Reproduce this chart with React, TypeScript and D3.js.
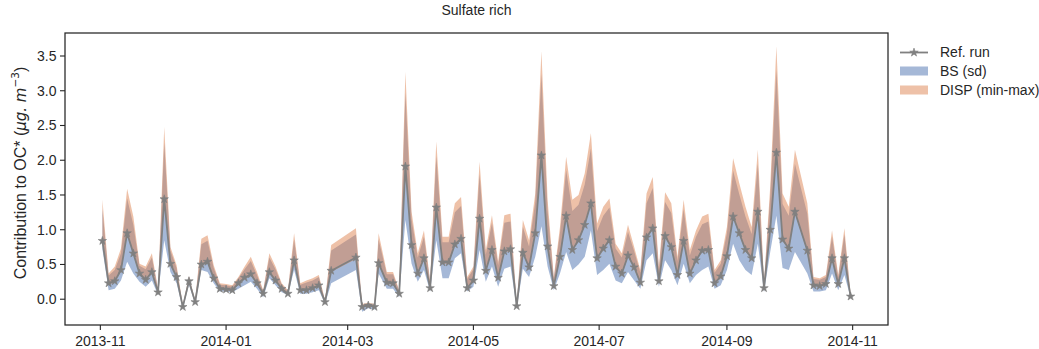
import React from "react";
import * as d3 from "d3";

// sampling dates (every 3 days, a few gaps)
const dates = [
  "2013-11-02", "2013-11-05", "2013-11-08", "2013-11-11", "2013-11-14", "2013-11-17", "2013-11-20", "2013-11-23", "2013-11-26", "2013-11-29",
  "2013-12-02", "2013-12-05", "2013-12-08", "2013-12-11", "2013-12-14", "2013-12-17", "2013-12-20", "2013-12-23", "2013-12-26", "2013-12-29",
  "2014-01-01", "2014-01-04", "2014-01-07", "2014-01-10", "2014-01-13", "2014-01-16", "2014-01-19", "2014-01-22", "2014-01-25", "2014-01-28",
  "2014-01-31", "2014-02-03", "2014-02-06", "2014-02-09", "2014-02-12", "2014-02-15", "2014-02-18", "2014-02-21",
  "2014-03-05", "2014-03-08", "2014-03-11", "2014-03-14", "2014-03-16",
  "2014-03-20", "2014-03-23", "2014-03-26", "2014-03-29", "2014-04-01", "2014-04-04", "2014-04-07", "2014-04-10", "2014-04-13", "2014-04-16",
  "2014-04-19", "2014-04-22", "2014-04-25", "2014-04-28", "2014-05-01", "2014-05-04", "2014-05-07", "2014-05-10", "2014-05-13", "2014-05-16",
  "2014-05-19", "2014-05-22", "2014-05-25", "2014-05-28", "2014-05-31", "2014-06-03", "2014-06-06", "2014-06-09", "2014-06-12", "2014-06-15",
  "2014-06-18", "2014-06-21", "2014-06-24", "2014-06-27", "2014-06-30", "2014-07-03", "2014-07-06", "2014-07-09", "2014-07-12", "2014-07-15",
  "2014-07-18", "2014-07-21", "2014-07-24", "2014-07-27", "2014-07-30", "2014-08-02", "2014-08-05", "2014-08-08", "2014-08-11", "2014-08-14",
  "2014-08-17", "2014-08-20", "2014-08-23", "2014-08-26", "2014-08-29", "2014-09-01", "2014-09-04", "2014-09-07", "2014-09-10", "2014-09-13",
  "2014-09-16", "2014-09-19", "2014-09-22", "2014-09-25", "2014-09-28", "2014-10-01", "2014-10-04",
  "2014-10-10", "2014-10-13", "2014-10-16", "2014-10-19", "2014-10-22", "2014-10-25", "2014-10-28", "2014-10-31",
];

const refRun = [
  0.84, 0.23, 0.26, 0.42, 0.95, 0.66, 0.37, 0.28, 0.39, 0.10,
  1.44, 0.51, 0.32, -0.11, 0.26, -0.04, 0.50, 0.54, 0.30, 0.15,
  0.14, 0.13, 0.23, 0.31, 0.36, 0.23, 0.08, 0.39, 0.27, 0.15,
  0.08, 0.56, 0.13, 0.13, 0.16, 0.20, -0.04, 0.41,
  0.60, -0.11, -0.09, -0.11, 0.52,
  0.24, 0.23, 0.08, 1.91, 0.78, 0.37, 0.59, 0.16, 1.32, 0.53,
  0.53, 0.79, 0.87, 0.16, 0.27, 1.16, 0.41, 0.71, 0.31, 0.69,
  0.72, -0.10, 0.67, 0.46, 0.95, 2.07, 0.76, 0.19, 0.61, 1.20,
  0.71, 0.85, 1.07, 1.38, 0.59, 0.73, 0.85, 0.47, 0.37, 0.63,
  0.46, 0.24, 0.89, 1.02, 0.26, 0.91, 0.75, 0.35, 0.84, 0.37,
  0.56, 0.70, 0.71, 0.23, 0.33, 0.62, 1.19, 0.95, 0.71, 0.59,
  1.26, 0.16, 1.00, 2.11, 0.86, 0.73, 1.26,
  0.70, 0.20, 0.19, 0.22, 0.59, 0.22, 0.59, 0.04,
];

// BS (sd) band
const bsLow = [
  0.72, 0.13, 0.15, 0.27, 0.54, 0.37, 0.25, 0.18, 0.27, 0.06,
  0.85, 0.39, 0.23, -0.14, 0.21, -0.07, 0.42, 0.39, 0.23, 0.11,
  0.11, 0.10, 0.15, 0.20, 0.25, 0.15, 0.03, 0.30, 0.20, 0.10,
  0.06, 0.42, 0.08, 0.08, 0.10, 0.13, -0.07, 0.23,
  0.42, -0.18, -0.13, -0.15, 0.37,
  0.15, 0.15, 0.03, 1.14, 0.51, 0.25, 0.42, 0.11, 0.85, 0.30,
  0.30, 0.59, 0.66, 0.11, 0.18, 0.71, 0.25, 0.47, 0.18, 0.44,
  0.47, -0.13, 0.44, 0.32, 0.61, 1.05, 0.47, 0.13, 0.37, 0.68,
  0.42, 0.50, 0.61, 0.99, 0.35, 0.42, 0.51, 0.27, 0.23, 0.39,
  0.27, 0.15, 0.56, 0.66, 0.18, 0.56, 0.42, 0.20, 0.51, 0.23,
  0.35, 0.42, 0.47, 0.15, 0.20, 0.42, 0.80, 0.56, 0.42, 0.35,
  0.80, 0.10, 0.68, 1.20, 0.45, 0.42, 0.68,
  0.37, 0.11, 0.11, 0.13, 0.37, 0.13, 0.35, 0.02,
];
const bsHigh = [
  1.30, 0.34, 0.42, 0.66, 1.45, 1.07, 0.48, 0.43, 0.60, 0.14,
  2.25, 0.70, 0.45, -0.09, 0.32, -0.02, 0.79, 0.84, 0.45, 0.21,
  0.20, 0.18, 0.30, 0.43, 0.55, 0.35, 0.12, 0.60, 0.43, 0.21,
  0.12, 0.86, 0.21, 0.24, 0.27, 0.32, -0.02, 0.70,
  0.93, -0.08, -0.06, -0.08, 0.86,
  0.36, 0.36, 0.12, 2.97, 1.15, 0.60, 0.90, 0.25, 2.06, 0.82,
  0.82, 1.25, 1.34, 0.29, 0.43, 1.80, 0.64, 1.10, 0.49, 1.10,
  1.12, -0.07, 1.04, 0.76, 1.40, 3.24, 1.28, 0.29, 0.95, 1.86,
  1.27, 1.36, 1.65, 2.17, 0.98, 1.20, 1.32, 0.73, 0.60, 0.97,
  0.69, 0.38, 1.38, 1.60, 0.42, 1.40, 1.24, 0.55, 1.30, 0.63,
  0.90, 1.08, 1.12, 0.38, 0.51, 0.95, 1.85, 1.51, 1.19, 0.94,
  1.95, 0.23, 1.48, 3.30, 1.37, 1.20, 1.95,
  1.23, 0.29, 0.28, 0.32, 0.90, 0.32, 0.93, 0.06,
];

// DISP (min-max) band
const dispLow = [
  0.82, 0.21, 0.24, 0.40, 0.93, 0.64, 0.35, 0.26, 0.37, 0.09,
  1.42, 0.49, 0.30, -0.12, 0.25, -0.05, 0.48, 0.52, 0.28, 0.14,
  0.13, 0.12, 0.22, 0.29, 0.34, 0.21, 0.07, 0.37, 0.25, 0.14,
  0.07, 0.54, 0.12, 0.12, 0.15, 0.19, -0.05, 0.39,
  0.58, -0.12, -0.10, -0.12, 0.50,
  0.22, 0.21, 0.07, 1.89, 0.76, 0.35, 0.57, 0.15, 1.30, 0.51,
  0.51, 0.77, 0.85, 0.15, 0.25, 1.14, 0.39, 0.69, 0.29, 0.67,
  0.70, -0.11, 0.65, 0.44, 0.93, 2.05, 0.74, 0.18, 0.59, 1.18,
  0.69, 0.83, 1.05, 1.36, 0.57, 0.71, 0.83, 0.45, 0.35, 0.61,
  0.44, 0.22, 0.87, 1.00, 0.24, 0.89, 0.73, 0.33, 0.82, 0.35,
  0.54, 0.68, 0.69, 0.21, 0.31, 0.60, 1.17, 0.93, 0.69, 0.57,
  1.24, 0.15, 0.98, 2.09, 0.84, 0.71, 1.24,
  0.68, 0.19, 0.18, 0.21, 0.57, 0.21, 0.57, 0.03,
];
const dispHigh = [
  1.43, 0.37, 0.47, 0.73, 1.59, 1.19, 0.51, 0.47, 0.66, 0.15,
  2.48, 0.75, 0.49, -0.08, 0.33, -0.01, 0.87, 0.92, 0.49, 0.23,
  0.22, 0.20, 0.32, 0.47, 0.61, 0.39, 0.13, 0.66, 0.47, 0.23,
  0.13, 0.95, 0.23, 0.27, 0.30, 0.35, -0.01, 0.78,
  1.02, -0.07, -0.05, -0.07, 0.95,
  0.39, 0.39, 0.13, 3.27, 1.26, 0.66, 0.99, 0.27, 2.27, 0.90,
  0.90, 1.38, 1.47, 0.32, 0.47, 1.98, 0.71, 1.21, 0.54, 1.21,
  1.23, -0.06, 1.14, 0.85, 1.52, 3.57, 1.43, 0.32, 1.04, 2.05,
  1.43, 1.50, 1.81, 2.39, 1.09, 1.33, 1.45, 0.80, 0.66, 1.07,
  0.75, 0.42, 1.52, 1.76, 0.47, 1.54, 1.38, 0.61, 1.43, 0.71,
  0.99, 1.19, 1.23, 0.42, 0.56, 1.04, 2.03, 1.67, 1.33, 1.04,
  2.15, 0.25, 1.62, 3.64, 1.52, 1.33, 2.15,
  1.38, 0.32, 0.30, 0.35, 0.99, 0.35, 1.02, 0.07,
];

const yTicks = [0, 0.5, 1, 1.5, 2, 2.5, 3, 3.5];
const xTickDates = ["2013-11-01", "2014-01-01", "2014-03-01", "2014-05-01", "2014-07-01", "2014-09-01", "2014-11-01"];

const BLUE = "#4c72b0";
const ORANGE = "#dd8452";
const GREY = "#808080";
const INK = "#262626";
const FONT = "'Liberation Sans', Arial, sans-serif";

const App: React.FC = () => {
  const width = 1039;
  const height = 349;
  const plot = { left: 65, right: 888, top: 33, bottom: 325 };

  const parse = d3.timeParse("%Y-%m-%d");
  const t = dates.map((d) => parse(d) as Date);

  // matplotlib-like 5% margins
  const [t0, t1] = d3.extent(t) as [Date, Date];
  const tPad = (t1.getTime() - t0.getTime()) * 0.05;
  const x = d3
    .scaleTime()
    .domain([new Date(t0.getTime() - tPad), new Date(t1.getTime() + tPad)])
    .range([plot.left, plot.right]);

  const yMin = d3.min([...bsLow, ...dispLow, ...refRun]) as number;
  const yMax = d3.max([...bsHigh, ...dispHigh, ...refRun]) as number;
  const yPad = (yMax - yMin) * 0.05;
  const y = d3
    .scaleLinear()
    .domain([yMin - yPad, yMax + yPad])
    .range([plot.bottom, plot.top]);

  const idx = d3.range(dates.length);
  const bandArea = (lo: number[], hi: number[]) =>
    d3
      .area<number>()
      .x((i) => x(t[i]))
      .y0((i) => y(lo[i]))
      .y1((i) => y(hi[i]))(idx) || "";

  const refLine =
    d3
      .line<number>()
      .x((i) => x(t[i]))
      .y((i) => y(refRun[i]))(idx) || "";

  const star = d3.symbol().type(d3.symbolStar).size(22)() || "";
  const fmt = d3.timeFormat("%Y-%m");

  const legendX = 900;
  const legendRows = [52.5, 71, 90];

  return (
    <svg
      width={width}
      height={height}
      style={{ position: "absolute", left: 0, top: 0, background: "#fff" }}
      fontFamily={FONT}
    >
      {/* bands */}
      <path d={bandArea(bsLow, bsHigh)} fill={BLUE} fillOpacity={0.5} />
      <path d={bandArea(dispLow, dispHigh)} fill={ORANGE} fillOpacity={0.5} />

      {/* reference run */}
      <path d={refLine} fill="none" stroke={GREY} strokeWidth={1.8} strokeLinejoin="round" />
      {idx.map((i) => (
        <path key={i} d={star} transform={`translate(${x(t[i])},${y(refRun[i])})`} fill={GREY} stroke={GREY} strokeWidth={0.6} />
      ))}

      {/* frame */}
      <rect
        x={plot.left}
        y={plot.top}
        width={plot.right - plot.left}
        height={plot.bottom - plot.top}
        fill="none"
        stroke={INK}
        strokeWidth={1.25}
      />

      {/* y axis */}
      {yTicks.map((v) => (
        <g key={v} transform={`translate(0,${y(v)})`}>
          <line x1={plot.left - 5} x2={plot.left} stroke={INK} strokeWidth={1.1} />
          <text x={plot.left - 8.5} dy="0.35em" textAnchor="end" fontSize={14} fill={INK}>
            {v.toFixed(1)}
          </text>
        </g>
      ))}

      {/* x axis */}
      {xTickDates.map((d) => {
        const px = x(parse(d) as Date);
        return (
          <g key={d} transform={`translate(${px},${plot.bottom})`}>
            <line y1={0} y2={5} stroke={INK} strokeWidth={1.1} />
            <text y={10} dy="0.8em" textAnchor="middle" fontSize={14} fill={INK}>
              {fmt(parse(d) as Date)}
            </text>
          </g>
        );
      })}

      {/* title */}
      <text x={(plot.left + plot.right) / 2} y={15} textAnchor="middle" fontSize={14} fill={INK}>
        Sulfate rich
      </text>

      {/* y label */}
      <text
        transform={`translate(26,${(plot.top + plot.bottom) / 2 - 6}) rotate(-90)`}
        textAnchor="middle"
        fontSize={16}
        fill={INK}
      >
        Contribution to OC* (
        <tspan fontFamily="'DejaVu Sans', sans-serif" fontStyle="italic" fontSize={15}>μg. m</tspan>
        <tspan fontFamily="'DejaVu Sans', sans-serif" fontSize={10.5} dy={-7}>−3</tspan>
        <tspan dy={7}>)</tspan>
      </text>

      {/* legend */}
      <g fontSize={14} fill={INK}>
        <line x1={legendX} x2={legendX + 28} y1={legendRows[0]} y2={legendRows[0]} stroke={GREY} strokeWidth={1.8} />
        <path d={star} transform={`translate(${legendX + 14},${legendRows[0]})`} fill={GREY} stroke={GREY} strokeWidth={0.6} />
        <text x={legendX + 40} y={legendRows[0]} dy="0.35em">Ref. run</text>

        <rect x={legendX} y={legendRows[1] - 4.5} width={28} height={9} fill={BLUE} fillOpacity={0.5} />
        <text x={legendX + 40} y={legendRows[1]} dy="0.35em">BS (sd)</text>

        <rect x={legendX} y={legendRows[2] - 4.5} width={28} height={9} fill={ORANGE} fillOpacity={0.5} />
        <text x={legendX + 40} y={legendRows[2]} dy="0.35em">DISP (min-max)</text>
      </g>
    </svg>
  );
};

export default App;
